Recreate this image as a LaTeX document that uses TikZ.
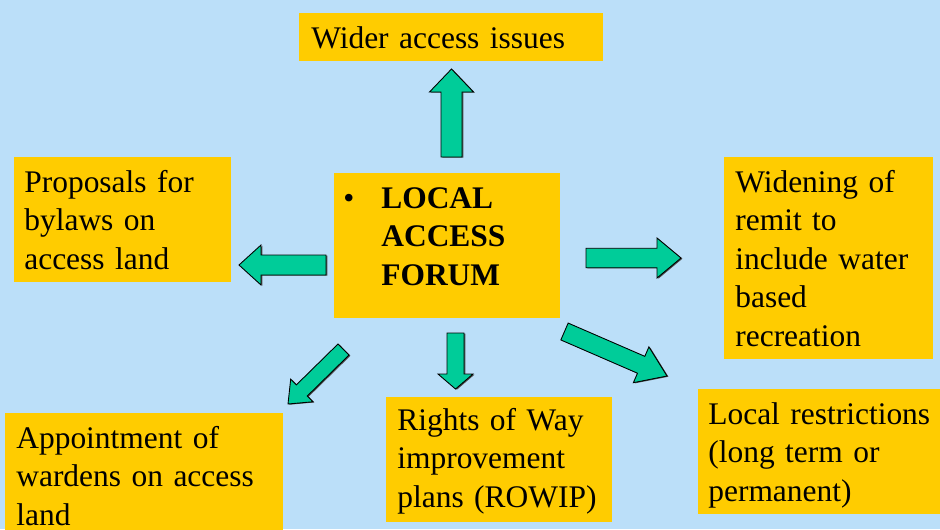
\documentclass[tikz,border=0pt]{standalone}
\usepackage{fontspec}
\setmainfont{Liberation Serif}
\usepackage{tikz}
\usetikzlibrary{calc,shadows}
\definecolor{bgblue}{RGB}{187,223,249}
\definecolor{boxyellow}{RGB}{255,204,0}
\definecolor{fatgreen}{RGB}{0,204,153}

\begin{document}
\begin{tikzpicture}[x=0.02cm, y=-0.02cm,
  box/.style={fill=boxyellow, anchor=north west, align=left,
    inner ysep=0pt, text height=0.7cm,
    font=\fontsize{17.9}{21.9}\selectfont},
  fat/.style n args={3}{fill=fatgreen, draw=black, line width=0.5pt,
    drop shadow={shadow xshift=0.8pt, shadow yshift=-0.4pt,
      fill=black!70, opacity=1},
    to path={let \p1=(\tikztostart), \p2=(\tikztotarget),
      \p3=($(\p2)!#3!(\p1)$) in
      ($(\p1)!#1!90:(\p2)$) -- ($(\p3)!#1!90:(\p2)$)
      -- ($(\p3)!#2!90:(\p2)$) -- (\p2)
      -- ($(\p3)!#2!-90:(\p2)$) -- ($(\p3)!#1!-90:(\p2)$)
      -- ($(\p1)!#1!-90:(\p2)$) -- cycle}}
]
  \useasboundingbox (0,0) rectangle (940,529);
  \clip (0,0) rectangle (940,529);
  \fill[bgblue] (0,0) rectangle (940,529);

  % central forum
  \node[box, text width=4.16cm, inner xsep=0.18cm, text depth=2.2cm]
    (LAF) at (334,173)
    {\makebox[0.76cm][l]{\textbullet}\parbox[t]{3.3cm}{\bfseries LOCAL\\ACCESS\\FORUM}};

  % outer boxes
  \node[box, text width=5.6cm, inner xsep=0.24cm, text depth=0.26cm]
    (wider) at (299,13) {Wider access issues};
  \node[box, text width=3.94cm, inner xsep=0.2cm, text depth=1.8cm]
    (bylaws) at (14,157) {Proposals for\\bylaws on\\access land};
  \node[box, text width=3.74cm, inner xsep=0.22cm, text depth=3.34cm]
    (remit) at (724,157)
    {Widening of\\remit to\\include water\\based\\recreation};
  \node[box, text width=5.12cm, inner xsep=0.22cm, text depth=1.82cm]
    (wardens) at (5,413) {Appointment of\\wardens on access\\land};
  \node[box, text width=4.08cm, inner xsep=0.22cm, text height=0.66cm,
    text depth=1.84cm]
    (ROWIP) at (386,397) {Rights of Way\\improvement\\plans (ROWIP)};
  \node[box, text width=4.64cm, inner xsep=0.2cm, text depth=1.8cm]
    (restrict) at (698,389) {Local restrictions\\(long term or\\permanent)};

  % block arrows
  \coordinate (upA) at (451.5,157);   \coordinate (upB) at (451.5,69);
  \coordinate (lfA) at (326,265);     \coordinate (lfB) at (239,265);
  \coordinate (rtA) at (586,258);     \coordinate (rtB) at (681,258);
  \coordinate (dlA) at (343.5,349.5); \coordinate (dlB) at (288,404);
  \coordinate (dnA) at (455.5,333);   \coordinate (dnB) at (455.5,389);
  \coordinate (drA) at (564.5,331.5); \coordinate (drB) at (667,376);
  \draw[fat={0.21cm}{0.44cm}{0.46cm}] (upA) to (upB);
  \draw[fat={0.2cm}{0.4cm}{0.44cm}] (lfA) to (lfB);
  \draw[fat={0.195cm}{0.4cm}{0.48cm}] (rtA) to (rtB);
  \draw[fat={0.156cm}{0.318cm}{0.388cm}] (dlA) to (dlB);
  \draw[fat={0.17cm}{0.35cm}{0.3cm}] (dnA) to (dnB);
  \draw[fat={0.184cm}{0.39cm}{0.564cm}] (drA) to (drB);
\end{tikzpicture}
\end{document}
